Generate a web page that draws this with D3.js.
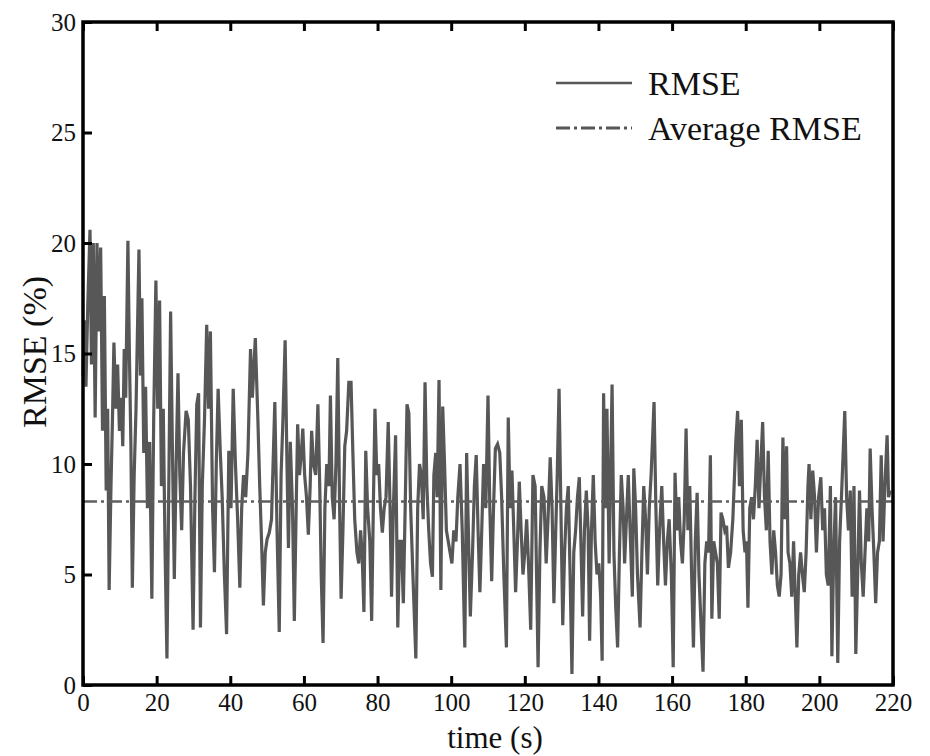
<!DOCTYPE html>
<head>
	<meta charset="utf-8">
	<script src="https://d3js.org/d3.v7.min.js"></script>
	<style>
		body { margin: 0; background: #fff; }
		svg { display: block; }
	</style>
</head>
<body>
<svg></svg>
<script>
	// [time (s), RMSE (%)]
	var rmseSeries = [
		[0, 14.0], [0.4, 16.5], [0.8, 13.5], [1.3, 17.2], [1.9, 20.6], [2.3, 14.5], [2.8, 20.0], [3.3, 12.1], [3.8, 20.0], [4.3, 16.0],
		[4.8, 19.8], [5.3, 11.5], [5.8, 17.6], [6.3, 8.8], [6.7, 12.5], [7.1, 4.3], [7.6, 9.0], [8.0, 12.0], [8.4, 15.5], [8.9, 12.5],
		[9.4, 14.5], [9.9, 11.5], [10.4, 13.0], [10.8, 10.8], [11.2, 15.2], [11.6, 13.0], [12.2, 20.1], [12.6, 15.0], [13.0, 11.0], [13.4, 4.4],
		[13.9, 9.5], [14.4, 12.5], [15.2, 19.7], [15.6, 14.0], [16.0, 17.5], [16.5, 10.5], [17.0, 13.5], [17.5, 8.0], [18.1, 11.0], [18.7, 3.9],
		[19.2, 12.0], [19.8, 18.3], [20.3, 12.5], [20.8, 17.4], [21.3, 9.0], [21.8, 12.5], [22.3, 6.0], [22.8, 1.2], [23.3, 9.0], [23.8, 16.9],
		[24.3, 10.5], [24.8, 4.8], [25.3, 10.0], [25.8, 14.1], [26.3, 9.5], [26.8, 7.0], [27.3, 10.5], [28.0, 12.4], [28.6, 12.0], [29.2, 9.0],
		[29.9, 2.5], [30.4, 8.5], [30.9, 12.7], [31.4, 13.2], [31.9, 2.6], [32.4, 9.0], [33.0, 12.0], [33.6, 16.3], [34.1, 12.5], [34.6, 16.0],
		[35.2, 8.0], [35.7, 5.1], [36.2, 10.0], [36.7, 13.4], [37.3, 10.5], [37.8, 8.5], [38.4, 5.0], [39.0, 2.3], [39.6, 10.6], [40.2, 8.0],
		[40.8, 13.4], [41.4, 10.0], [42.0, 7.5], [42.6, 4.4], [43.1, 8.0], [43.6, 9.5], [44.2, 8.5], [44.8, 10.5], [45.5, 15.2], [46.0, 13.0],
		[46.8, 15.7], [47.5, 12.0], [48.0, 9.0], [48.5, 6.5], [49.0, 3.6], [49.5, 6.0], [50.0, 6.6], [50.6, 6.9], [51.2, 7.5], [52.1, 12.8],
		[52.7, 7.0], [53.3, 2.4], [53.8, 9.5], [54.3, 12.0], [54.9, 15.6], [55.4, 10.0], [55.8, 6.2], [56.3, 11.0], [56.9, 8.0], [57.4, 2.9],
		[57.9, 8.0], [58.3, 11.8], [58.8, 9.5], [59.3, 10.5], [59.7, 11.6], [60.2, 9.5], [60.7, 8.5], [61.2, 6.8], [61.7, 9.0], [62.1, 11.5],
		[62.6, 10.0], [63.2, 9.5], [63.8, 12.7], [64.3, 9.0], [64.7, 5.0], [65.2, 1.9], [65.7, 8.0], [66.2, 10.0], [66.8, 9.0], [67.2, 13.1],
		[67.7, 8.5], [68.2, 7.5], [68.7, 10.0], [69.2, 14.8], [69.7, 8.0], [70.1, 3.9], [70.6, 7.0], [71.1, 10.8], [71.6, 11.5], [72.2, 13.7],
		[72.8, 13.7], [73.3, 10.5], [73.8, 7.5], [74.4, 6.0], [74.9, 5.5], [75.4, 7.0], [75.8, 6.0], [76.3, 3.3], [76.8, 10.6], [77.3, 8.0],
		[77.9, 6.5], [78.4, 2.9], [78.9, 8.5], [79.3, 12.5], [79.8, 9.5], [80.3, 10.0], [80.8, 8.0], [81.3, 6.9], [81.8, 8.0], [82.3, 8.5],
		[82.9, 11.9], [83.4, 8.0], [83.8, 4.0], [84.3, 8.0], [84.9, 11.3], [85.5, 2.6], [86.0, 6.5], [86.5, 6.5], [87.0, 3.7], [87.5, 8.0],
		[88.0, 12.7], [88.5, 12.3], [89.0, 8.0], [89.6, 5.0], [90.4, 1.2], [90.9, 8.0], [91.4, 10.0], [91.9, 9.5], [92.4, 7.5], [92.9, 13.7],
		[93.4, 9.0], [93.9, 7.0], [94.4, 5.5], [94.9, 4.9], [95.3, 9.5], [95.8, 10.5], [96.2, 8.5], [96.7, 13.8], [97.2, 4.3], [97.7, 12.6],
		[98.2, 10.0], [98.7, 7.0], [99.2, 6.5], [99.7, 6.0], [100.2, 5.5], [100.7, 7.0], [101.3, 6.5], [101.8, 8.5], [102.4, 10.0], [103.0, 7.0],
		[103.7, 1.7], [104.2, 10.5], [104.8, 6.0], [105.2, 3.1], [105.8, 6.0], [106.3, 9.0], [106.8, 10.4], [107.3, 7.0], [107.8, 4.2], [108.3, 7.0],
		[108.8, 10.0], [109.4, 8.0], [110.0, 13.1], [110.5, 8.0], [111.0, 4.7], [111.5, 8.0], [112.0, 10.7], [112.6, 10.9], [113.2, 10.5], [113.7, 8.5],
		[114.3, 5.0], [115.0, 1.7], [115.5, 12.1], [116.0, 8.0], [116.5, 9.7], [117.0, 7.0], [117.5, 4.2], [118.0, 6.5], [118.5, 9.2], [119.0, 7.0],
		[119.5, 5.0], [120.0, 6.0], [120.5, 7.5], [121.0, 5.5], [121.6, 2.5], [122.2, 9.5], [122.8, 9.0], [123.6, 0.8], [124.1, 6.0], [124.6, 9.0],
		[125.2, 8.5], [125.8, 5.5], [126.3, 7.5], [126.9, 10.3], [127.4, 8.0], [127.9, 3.7], [128.4, 7.0], [128.8, 9.5], [129.3, 13.4], [129.8, 8.0],
		[130.3, 2.7], [130.8, 6.0], [131.3, 8.0], [131.8, 9.0], [132.3, 5.0], [132.8, 0.5], [133.3, 6.0], [133.8, 7.0], [134.3, 8.5], [134.8, 9.4],
		[135.3, 6.0], [135.7, 3.1], [136.2, 7.0], [136.7, 8.8], [137.2, 7.0], [137.6, 2.0], [138.1, 7.0], [138.6, 9.5], [139.1, 6.5], [139.6, 5.0],
		[140.1, 5.5], [140.6, 4.0], [141.0, 1.1], [141.4, 13.2], [141.8, 8.0], [142.3, 12.5], [142.9, 5.5], [143.7, 13.6], [144.2, 6.0], [144.7, 3.5],
		[145.2, 1.7], [145.7, 6.0], [146.2, 9.5], [146.7, 8.0], [147.1, 5.5], [147.6, 7.5], [148.1, 9.5], [148.7, 6.5], [149.2, 4.0], [149.6, 9.8],
		[150.1, 8.0], [150.6, 5.0], [151.3, 2.6], [151.8, 6.0], [152.3, 9.0], [152.8, 7.5], [153.3, 5.0], [153.8, 8.0], [154.3, 9.5], [155.1, 12.8],
		[155.6, 8.0], [156.1, 4.5], [156.6, 7.0], [157.2, 9.0], [157.7, 6.5], [158.2, 4.5], [158.7, 6.5], [159.2, 7.5], [159.8, 5.0], [160.3, 0.8],
		[160.8, 9.6], [161.3, 7.0], [161.8, 8.5], [162.3, 6.5], [162.8, 5.5], [163.3, 7.5], [163.8, 11.6], [164.3, 7.0], [164.8, 9.0], [165.3, 5.0],
		[165.8, 1.7], [166.3, 6.5], [166.8, 8.7], [167.3, 5.0], [167.8, 3.0], [168.4, 0.6], [168.9, 5.5], [169.4, 6.5], [169.9, 6.0], [170.4, 10.4],
		[170.8, 3.0], [171.3, 6.5], [171.8, 6.0], [172.3, 5.5], [172.8, 3.0], [173.3, 7.8], [173.8, 7.5], [174.3, 7.0], [174.8, 7.2], [175.3, 5.3],
		[175.9, 6.0], [176.5, 7.5], [177.3, 11.0], [177.8, 12.4], [178.3, 9.0], [178.8, 12.0], [179.3, 7.0], [179.8, 6.0], [180.2, 6.5], [180.6, 3.5],
		[181.1, 8.0], [181.6, 8.5], [182.1, 7.5], [182.6, 9.0], [183.1, 11.1], [183.6, 8.0], [184.1, 10.0], [184.6, 11.9], [185.1, 8.5], [185.6, 7.0],
		[186.1, 10.6], [186.6, 6.5], [187.1, 5.0], [187.6, 7.0], [188.1, 6.0], [188.6, 4.5], [189.1, 4.0], [189.6, 5.0], [190.1, 11.2], [190.6, 7.5],
		[191.1, 10.8], [191.5, 6.0], [192.0, 5.5], [192.5, 4.0], [193.0, 6.5], [193.9, 1.7], [194.4, 5.0], [194.9, 6.0], [195.4, 5.0], [195.9, 4.2],
		[196.4, 6.0], [196.9, 9.0], [197.2, 10.0], [197.7, 7.5], [198.2, 9.7], [198.7, 8.5], [199.2, 6.0], [199.8, 8.5], [200.4, 9.4], [200.9, 7.0],
		[201.4, 8.0], [201.9, 5.0], [202.4, 4.5], [203.0, 9.0], [203.4, 1.3], [203.9, 6.0], [204.4, 8.5], [205.0, 1.0], [205.5, 6.5], [206.0, 8.5],
		[206.9, 12.4], [207.4, 8.5], [207.9, 7.0], [208.4, 8.8], [208.9, 4.0], [209.4, 9.0], [209.9, 1.4], [210.4, 5.0], [210.9, 8.8], [211.4, 5.5],
		[211.9, 4.0], [212.4, 6.0], [212.9, 8.0], [213.4, 6.5], [213.8, 10.7], [214.3, 8.0], [214.8, 6.0], [215.3, 3.7], [215.8, 6.0], [216.3, 6.5],
		[216.8, 10.4], [217.3, 6.5], [217.8, 9.0], [218.4, 11.3], [218.8, 8.5], [219.2, 8.8]
	];
	var averageRmse = 8.3;
	var xTicks = [0, 20, 40, 60, 80, 100, 120, 140, 160, 180, 200, 220];
	var yTicks = [0, 5, 10, 15, 20, 25, 30];
	var legendLabels = ['RMSE', 'Average RMSE'];

	var width = 930, height = 756;
	var margin = {top: 22, right: 37, bottom: 71, left: 83};
	var serif = "'Liberation Serif', serif";

	var svg = d3.select('svg').attr('width', width).attr('height', height);

	var x = d3.scaleLinear().domain([0, 220]).range([margin.left, width - margin.right]);
	var y = d3.scaleLinear().domain([0, 30]).range([height - margin.bottom, margin.top]);

	var lineColor = '#575757';
	var dashDot = '14,4,3,4';

	// measure the text and place it with a start anchor
	function anchorAt(sel, mode) {
		sel.attr('text-anchor', 'start').each(function () {
			var el = d3.select(this);
			var w = this.getComputedTextLength();
			var x0 = +el.attr('x') || 0;
			el.attr('x', x0 - (mode === 'middle' ? w / 2 : w));
		});
	}

	/* --------- DATA ---------*/

	var line = d3.line()
		.x(function (d) { return x(d[0]); })
		.y(function (d) { return y(d[1]); });

	svg.append('path')
		.datum(rmseSeries)
		.attr('fill', 'none')
		.attr('stroke', lineColor)
		.attr('stroke-width', 3.2)
		.attr('d', line);

	svg.append('line')
		.attr('x1', x(0)).attr('x2', x(220))
		.attr('y1', y(averageRmse)).attr('y2', y(averageRmse))
		.attr('stroke', '#5f5f5f')
		.attr('stroke-width', 2.5)
		.attr('stroke-dasharray', dashDot);

	/* --------- AXES ---------*/

	var xAxis = d3.axisBottom(x).tickValues(xTicks).tickSize(-9).tickPadding(8);
	var yAxis = d3.axisLeft(y).tickValues(yTicks).tickSize(-9).tickPadding(7);
	var xTop = d3.axisTop(x).tickValues(xTicks).tickSize(-9).tickFormat('');

	function styleAxis(g, mode) {
		g.attr('font-size', null).attr('font-family', null).attr('text-anchor', 'start');
		g.selectAll('.domain').remove();
		g.selectAll('.tick line').attr('stroke', '#000').attr('stroke-width', 3);
		var t = g.selectAll('.tick text')
			.attr('fill', '#111')
			.style('font-family', serif)
			.style('font-size', '25px');
		if (mode) anchorAt(t, mode);
	}

	svg.append('g')
		.attr('transform', 'translate(0,' + y(0) + ')')
		.call(xAxis).call(styleAxis, 'middle');

	svg.append('g')
		.attr('transform', 'translate(' + x(0) + ',0)')
		.call(yAxis).call(styleAxis, 'end');

	svg.append('g')
		.attr('transform', 'translate(0,' + y(30) + ')')
		.call(xTop).call(styleAxis, null);

	svg.append('rect')
		.attr('x', x(0)).attr('y', y(30))
		.attr('width', x(220) - x(0)).attr('height', y(0) - y(30))
		.attr('fill', 'none')
		.attr('stroke', '#000')
		.attr('stroke-width', 3.5);

	svg.append('text')
		.attr('x', (x(0) + x(220)) / 2 + 7)
		.attr('y', 748)
		.attr('fill', '#111')
		.style('font-family', serif)
		.style('font-size', '31px')
		.text('time (s)')
		.call(anchorAt, 'middle');

	svg.append('text')
		.attr('transform', 'translate(46,' + 352 + ') rotate(-90)')
		.attr('x', 0)
		.attr('fill', '#111')
		.style('font-family', serif)
		.style('font-size', '34px')
		.text('RMSE (%)')
		.call(anchorAt, 'middle');

	/* --------- LEGEND ---------*/

	var legend = svg.append('g').attr('transform', 'translate(556,83)');
	var items = legend.selectAll('g').data(legendLabels).enter().append('g')
		.attr('transform', function (d, i) { return 'translate(0,' + i * 45 + ')'; });

	items.append('line')
		.attr('x1', 0).attr('x2', 76)
		.attr('stroke', lineColor)
		.attr('stroke-width', function (d, i) { return i ? 3 : 2.5; })
		.attr('stroke-dasharray', function (d, i) { return i ? dashDot : null; });

	items.append('text')
		.attr('x', 92)
		.attr('y', 12)
		.attr('fill', '#111')
		.style('font-family', serif)
		.style('font-size', '34px')
		.text(function (d) { return d; });
</script>
</body>
